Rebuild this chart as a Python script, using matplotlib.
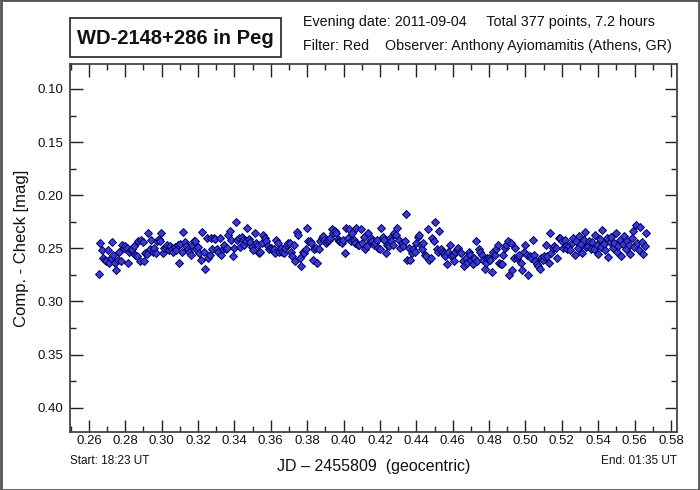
import matplotlib
matplotlib.use("Agg")
import matplotlib.pyplot as plt
from matplotlib.ticker import MultipleLocator, FormatStrFormatter
from matplotlib.patches import Rectangle

plt.rcParams['font.family'] = ['Liberation Sans', 'DejaVu Sans']

# JD - 2455809, in units of 1e-4 day
jd_e4 = [
    2655, 2663, 2671, 2679, 2687, 2695, 2703, 2711, 2719, 2727,
    2735, 2743, 2751, 2759, 2767, 2775, 2783, 2791, 2799, 2807,
    2815, 2823, 2831, 2839, 2847, 2855, 2863, 2871, 2879, 2887,
    2895, 2903, 2911, 2919, 2927, 2935, 2943, 2951, 2959, 2967,
    2975, 2983, 2991, 2999, 3007, 3015, 3023, 3031, 3039, 3047,
    3055, 3063, 3071, 3079, 3087, 3095, 3103, 3111, 3119, 3127,
    3135, 3143, 3151, 3159, 3167, 3175, 3183, 3191, 3199, 3207,
    3215, 3223, 3231, 3239, 3247, 3255, 3263, 3271, 3279, 3287,
    3295, 3303, 3311, 3319, 3327, 3335, 3343, 3351, 3359, 3367,
    3375, 3383, 3391, 3399, 3407, 3415, 3423, 3431, 3439, 3447,
    3455, 3463, 3471, 3479, 3487, 3495, 3503, 3511, 3519, 3527,
    3535, 3543, 3551, 3559, 3567, 3575, 3583, 3591, 3599, 3607,
    3615, 3623, 3631, 3639, 3647, 3655, 3663, 3671, 3679, 3687,
    3695, 3703, 3711, 3719, 3727, 3735, 3743, 3751, 3759, 3767,
    3775, 3783, 3791, 3799, 3807, 3815, 3823, 3831, 3839, 3847,
    3855, 3863, 3871, 3879, 3887, 3895, 3903, 3911, 3919, 3927,
    3935, 3943, 3951, 3959, 3967, 3975, 3983, 3991, 3999, 4007,
    4015, 4023, 4031, 4039, 4047, 4055, 4063, 4071, 4079, 4087,
    4095, 4103, 4111, 4119, 4127, 4135, 4143, 4151, 4159, 4167,
    4175, 4183, 4191, 4199, 4207, 4215, 4223, 4231, 4239, 4247,
    4255, 4263, 4271, 4279, 4287, 4295, 4303, 4311, 4319, 4327,
    4335, 4343, 4351, 4359, 4367, 4375, 4383, 4391, 4399, 4407,
    4415, 4423, 4431, 4439, 4447, 4455, 4463, 4471, 4479, 4487,
    4495, 4503, 4511, 4519, 4527, 4535, 4543, 4551, 4559, 4567,
    4575, 4583, 4591, 4599, 4607, 4615, 4623, 4631, 4639, 4647,
    4655, 4663, 4671, 4679, 4687, 4695, 4703, 4711, 4719, 4727,
    4735, 4743, 4751, 4759, 4767, 4775, 4783, 4791, 4799, 4807,
    4815, 4823, 4831, 4839, 4847, 4855, 4863, 4871, 4879, 4887,
    4895, 4903, 4911, 4919, 4927, 4935, 4943, 4951, 4959, 4967,
    4975, 4983, 4991, 4999, 5007, 5015, 5023, 5031, 5039, 5047,
    5055, 5063, 5071, 5079, 5087, 5095, 5103, 5111, 5119, 5127,
    5135, 5143, 5151, 5159, 5167, 5175, 5183, 5191, 5199, 5207,
    5215, 5223, 5231, 5239, 5247, 5255, 5263, 5271, 5279, 5287,
    5295, 5303, 5311, 5319, 5327, 5335, 5343, 5351, 5359, 5367,
    5375, 5383, 5391, 5399, 5407, 5415, 5423, 5431, 5439, 5447,
    5455, 5463, 5471, 5479, 5487, 5495, 5503, 5511, 5519, 5527,
    5535, 5543, 5551, 5559, 5567, 5575, 5583, 5591, 5599, 5607,
    5615, 5623, 5631, 5639, 5647, 5655, 5663,
]

# Comp. - Check, in millimag
dmag_mmag = [
    274, 245, 252, 259, 261, 262, 252, 264, 259, 244,
    256, 264, 270, 261, 253, 262, 247, 250, 248, 250,
    264, 253, 252, 251, 248, 256, 257, 243, 262,
    242, 244, 262, 254, 255, 236, 251, 242, 253, 250,
    254, 243, 241, 243, 236, 254, 250, 249, 247, 252,
    248, 251, 253, 249, 252, 247, 264, 246, 253,
    235, 244, 248, 251, 253, 256, 247, 243, 243, 251,
    249, 254, 261, 235, 253, 269, 240, 259, 256, 240,
    251, 240, 241, 251, 253, 240, 256, 251, 247,
    251, 250, 237, 234, 242, 257, 250, 225, 242, 240,
    249, 239, 242, 247, 243, 231, 241, 244, 249, 252,
    236, 245, 247, 254, 253, 245, 237, 240, 243,
    248, 251, 250, 251, 251, 254, 242, 245, 253, 250,
    253, 254, 250, 247, 245, 245, 253, 257, 247, 262,
    235, 237, 259, 267, 253, 254, 251, 231, 243,
    243, 245, 261, 251, 250, 264, 251, 243, 240, 238,
    242, 245, 243, 242, 240, 232, 236, 234, 236, 241,
    243, 243, 245, 242, 254, 231, 240, 232, 243,
    236, 242, 245, 231, 247, 247, 232, 245, 239, 251,
    248, 236, 243, 240, 243, 247, 245, 242, 250, 251,
    231, 239, 242, 254, 247, 248, 240, 243, 247,
    236, 237, 231, 242, 250, 245, 248, 243, 218, 261,
    250, 261, 254, 251, 253, 245, 239, 237, 247, 251,
    245, 256, 257, 232, 261, 259, 240, 243, 225,
    251, 253, 234, 251, 253, 254, 257, 265, 253, 247,
    257, 256, 262, 253, 251, 250, 253, 254, 262, 267,
    259, 264, 253, 256, 261, 265, 259, 243, 262,
    251, 253, 256, 261, 269, 264, 259,
    259, 261, 272, 253, 256, 251, 247, 264, 265, 265,
    256, 250, 247, 243, 275, 245, 270, 259, 250, 259,
    257, 256, 264, 270, 253, 247, 256, 275, 257, 259,
    242, 256, 262, 265, 267, 269, 259, 261, 257, 247,
    257, 264, 236, 254, 250, 248, 250, 259, 240, 240,
    243, 250, 242, 248, 251,
    248, 252, 245, 240, 256, 243, 250, 238, 246, 254,
    242, 235, 249, 248, 243, 251,
    244, 251, 237, 247, 255, 241, 249, 233, 246, 252,
    240, 258, 244, 239,
    250, 245, 236, 253, 248, 242, 257, 246, 238, 251,
    243, 247, 255,
    240, 234, 249, 228, 245, 252, 230, 244, 255, 248, 236,
]

err_mmag = 2.0

n = min(len(jd_e4), len(dmag_mmag))
x = [v / 10000.0 for v in jd_e4[:n]]
y = [v / 1000.0 for v in dmag_mmag[:n]]

fig = plt.figure(figsize=(7.0, 4.9), dpi=100)
ax = fig.add_axes([70 / 700, 58 / 490, 607 / 700, 368 / 490])

ax.errorbar(x, y, yerr=err_mmag / 1000.0, fmt='none', ecolor='#f0a0a0',
            elinewidth=0.8, zorder=2)
ax.plot(x, y, linestyle='none', marker='D', markersize=3.6,
        markerfacecolor='#3a3ad0', markeredgecolor='#000060',
        markeredgewidth=0.7, zorder=3)

ax.set_xlim(0.2496, 0.5833)
ax.set_ylim(0.4229, 0.0765)

ax.xaxis.set_major_locator(MultipleLocator(0.02))
ax.xaxis.set_minor_locator(MultipleLocator(0.01))
ax.yaxis.set_major_locator(MultipleLocator(0.05))
ax.yaxis.set_minor_locator(MultipleLocator(0.025))
ax.xaxis.set_major_formatter(FormatStrFormatter('%.2f'))
ax.yaxis.set_major_formatter(FormatStrFormatter('%.2f'))

ax.tick_params(which='both', direction='in', top=True, right=True,
               color='#222222', width=1.0, labelsize=9.5, labelcolor='#111111')
ax.tick_params(which='major', length=9)
ax.tick_params(which='minor', length=4.5)
ax.tick_params(axis='x', which='major', pad=2)
ax.tick_params(axis='y', which='major', pad=5)

for s in ax.spines.values():
    s.set_color('#444444')
    s.set_linewidth(1.3)

ax.set_xlabel('JD \u2013 2455809  (geocentric)', fontsize=11.5, labelpad=9,
              color='#111111')
ax.set_ylabel('Comp. - Check [mag]', fontsize=12, labelpad=6, color='#111111')

fig.text(70 / 700, 1 - 461 / 490, 'Start: 18:23 UT', fontsize=8.5,
         ha='left', va='center', color='#111111')
fig.text(677 / 700, 1 - 461 / 490, 'End: 01:35 UT', fontsize=8.5,
         ha='right', va='center', color='#111111')

# title box
fig.patches.append(Rectangle((70 / 700, 1 - 57 / 490), 211 / 700, 39 / 490,
                             transform=fig.transFigure, fill=False,
                             edgecolor='#333333', linewidth=1.3))
fig.text(175.5 / 700, 1 - 38 / 490, 'WD-2148+286 in Peg', fontsize=14.5,
         fontweight='bold', ha='center', va='center', color='#111111')

fig.text(303 / 700, 1 - 22 / 490,
         'Evening date: 2011-09-04     Total 377 points, 7.2 hours',
         fontsize=10.3, ha='left', va='center', color='#111111')
fig.text(303 / 700, 1 - 46 / 490,
         'Filter: Red    Observer: Anthony Ayiomamitis (Athens, GR)',
         fontsize=10.3, ha='left', va='center', color='#111111')

# outer frame
fig.patches.append(Rectangle((0.001, 0.001), 0.998, 0.998,
                             transform=fig.transFigure, fill=False,
                             edgecolor='#555555', linewidth=2))

fig.savefig('out.png', dpi=100)
